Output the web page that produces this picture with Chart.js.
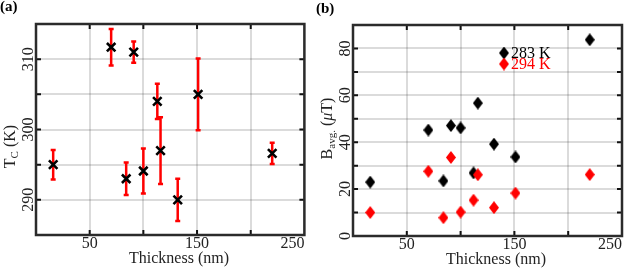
<!DOCTYPE html>
<html>
<head>
<meta charset="utf-8">
<script src="https://cdn.jsdelivr.net/npm/chart.js@4.4.1/dist/chart.umd.min.js"></script>
<style>
  body { margin: 0; background: #fff; }
  #wrap { position: relative; width: 627px; height: 268px; }
  .panel { position: absolute; top: 0; }
</style>
</head>
<body>
<div id="wrap">
  <canvas id="chartA" class="panel" width="313" height="268" style="left:0"></canvas>
  <canvas id="chartB" class="panel" width="314" height="268" style="left:313px"></canvas>
</div>
<script>
// panel (a): Curie temperature vs thickness
const thicknessTc = [16, 70, 84, 91, 100, 113, 116, 132, 151, 220];
const tcValues = [295.0, 311.7, 293.0, 311.0, 294.1, 304.0, 297.0, 290.0, 305.0, 296.6];
const tcErrors = [2.1, 2.6, 2.3, 1.5, 3.2, 2.5, 4.75, 3.0, 5.1, 1.5];

// panel (b): average field vs thickness
const thicknessB = [16, 70, 84, 91, 100, 112, 116, 131, 151, 220];
const bAvg283 = [23.0, 45.2, 23.5, 47.1, 46.1, 26.9, 56.7, 39.2, 33.7, 83.7];
const bAvg294 = [10.0, 27.6, 7.8, 33.5, 10.2, 15.3, 26.1, 12.1, 18.3, 26.2];
const seriesLabels = ["283 K", "294 K"];

// ticks
const xGrid = [0, 50, 100, 150, 200, 250];
const xLabels = [50, 150, 250];
const tcGrid = [285, 290, 295, 300, 305, 310, 315];
const tcLabels = [290, 300, 310];
const bGrid = [0, 10, 20, 30, 40, 50, 60, 70, 80, 90];
const bLabels = [0, 20, 40, 60, 80];

const SERIF = '"Liberation Serif", "DejaVu Serif", serif';
const RED = "#ff0000";
const DARK = "#222";

function diamond(color) {
  const c = document.createElement("canvas");
  c.width = 10; c.height = 13;
  const g = c.getContext("2d");
  g.fillStyle = color;
  g.beginPath();
  g.moveTo(5, 0); g.lineTo(10, 6.5); g.lineTo(5, 13); g.lineTo(0, 6.5);
  g.closePath();
  g.fill();
  return c;
}
const diamondBlack = diamond("#000");
const diamondRed = diamond(RED);

// draws pieces of text one after another, centred on (cx, cy), optionally rotated
function drawRich(ctx, parts, cx, cy, rot) {
  ctx.save();
  ctx.translate(cx, cy);
  ctx.rotate(rot || 0);
  ctx.textBaseline = "alphabetic";
  ctx.textAlign = "left";
  let total = 0;
  parts.forEach(p => { ctx.font = p.font; total += ctx.measureText(p.text).width; });
  let x = -total / 2;
  parts.forEach(p => {
    ctx.font = p.font;
    ctx.fillStyle = p.color || DARK;
    ctx.fillText(p.text, x, 5.5 + (p.dy || 0));
    x += ctx.measureText(p.text).width;
  });
  ctx.restore();
}

const decor = {
  id: "decor",
  beforeDatasetsDraw(chart, args, opts) {
    if (!opts.errors) return;
    const { ctx, scales: { x, y } } = chart;
    ctx.save();
    ctx.strokeStyle = RED;
    ctx.lineWidth = 2.5;
    ctx.beginPath();
    opts.errors.forEach((e, i) => {
      const px = x.getPixelForValue(thicknessTc[i]);
      const top = y.getPixelForValue(tcValues[i] + e);
      const bot = y.getPixelForValue(tcValues[i] - e);
      ctx.moveTo(px, top); ctx.lineTo(px, bot);
      ctx.moveTo(px - 2.5, top); ctx.lineTo(px + 2.5, top);
      ctx.moveTo(px - 2.5, bot); ctx.lineTo(px + 2.5, bot);
    });
    ctx.stroke();
    ctx.restore();
  },
  afterDraw(chart, args, opts) {
    const { ctx, chartArea: a, scales: { x, y } } = chart;
    ctx.save();
    // inward ticks
    ctx.strokeStyle = "#111";
    ctx.lineWidth = 2;
    ctx.beginPath();
    xGrid.forEach(v => {
      const px = x.getPixelForValue(v);
      if (px <= a.left + 1 || px >= a.right - 1) return;
      ctx.moveTo(px, a.bottom); ctx.lineTo(px, a.bottom - 5);
      ctx.moveTo(px, a.top); ctx.lineTo(px, a.top + 5);
    });
    opts.yGrid.forEach(v => {
      const py = y.getPixelForValue(v);
      if (py <= a.top + 1 || py >= a.bottom - 1) return;
      ctx.moveTo(a.left, py); ctx.lineTo(a.left + 5, py);
      ctx.moveTo(a.right, py); ctx.lineTo(a.right - 5, py);
    });
    ctx.stroke();
    // frame
    ctx.strokeStyle = "#2b2b2b";
    ctx.lineWidth = 2.5;
    ctx.strokeRect(a.left, a.top, a.right - a.left, a.bottom - a.top);

    // x tick labels
    ctx.fillStyle = DARK;
    ctx.font = "16px " + SERIF;
    ctx.textBaseline = "alphabetic";
    ctx.textAlign = "center";
    xLabels.forEach(v => {
      let px = x.getPixelForValue(v);
      const w = ctx.measureText(String(v)).width;
      if (px + w / 2 > a.right) px = a.right - w / 2;
      ctx.fillText(String(v), px, a.bottom + 13);
    });
    // y tick labels, rotated
    ctx.textBaseline = "middle";
    opts.yLabels.forEach(v => {
      const py = y.getPixelForValue(v);
      ctx.save();
      ctx.translate(a.left - 7, py);
      ctx.rotate(-Math.PI / 2);
      ctx.fillText(String(v), 0, 0);
      ctx.restore();
    });
    // axis titles
    drawRich(ctx, [{ text: "Thickness (nm)", font: "16px " + SERIF }], a.left + 143, a.bottom + 22);
    drawRich(ctx, opts.yTitle, a.left - 27, (a.top + a.bottom) / 2 + opts.yTitleShift, -Math.PI / 2);
    // panel tag
    ctx.font = "bold 15px " + SERIF;
    ctx.textAlign = "left";
    ctx.textBaseline = "alphabetic";
    ctx.fillStyle = "#000";
    ctx.fillText(opts.tag, opts.tagX, opts.tagY);

    // legend (panel b)
    if (opts.legend) {
      ctx.font = "16px " + SERIF;
      opts.legend.forEach((item, i) => {
        const lx = a.left + 151, ly = a.top + 28 + i * 11;
        ctx.drawImage(item.img, lx - 5, ly - 6.5);
        ctx.fillStyle = item.color;
        ctx.fillText(item.label, lx + 7, ly + 4.5);
      });
    }
    ctx.restore();
  }
};

function baseScales(yMin, yMax, yGridVals, yWidth, xHeight) {
  const grid = { color: "rgba(0,0,0,0.14)", lineWidth: 2, drawTicks: false };
  return {
    x: {
      type: "linear", min: 0, max: 250,
      ticks: { display: false },
      grid: grid,
      border: { display: false },
      afterBuildTicks: s => { s.ticks = xGrid.map(v => ({ value: v })); },
      afterFit: s => { s.height = xHeight; }
    },
    y: {
      type: "linear", min: yMin, max: yMax,
      ticks: { display: false },
      grid: grid,
      border: { display: false },
      afterBuildTicks: s => { s.ticks = yGridVals.map(v => ({ value: v })); },
      afterFit: s => { s.width = yWidth; }
    }
  };
}

new Chart(document.getElementById("chartA"), {
  type: "scatter",
  data: {
    datasets: [{
      data: thicknessTc.map((t, i) => ({ x: t, y: tcValues[i] })),
      pointStyle: "crossRot",
      pointRadius: 6,
      borderWidth: 2.6,
      borderColor: "#000",
      backgroundColor: "#000"
    }]
  },
  options: {
    responsive: false,
    animation: false,
    layout: { padding: { left: 0, top: 24, right: 8, bottom: 0 } },
    scales: baseScales(285, 315, tcGrid, 36, 33),
    plugins: {
      legend: { display: false },
      tooltip: { enabled: false },
      decor: {
        errors: tcErrors,
        yGrid: tcGrid,
        yLabels: tcLabels,
        yTitle: [
          { text: "T", font: "16px " + SERIF },
          { text: "C", font: "11px " + SERIF, dy: 3 },
          { text: " (K)", font: "16px " + SERIF }
        ],
        yTitleShift: 17,
        tag: "(a)", tagX: 0, tagY: 11
      }
    }
  },
  plugins: [decor]
});

new Chart(document.getElementById("chartB"), {
  type: "scatter",
  data: {
    datasets: [{
      label: seriesLabels[0],
      data: thicknessB.map((t, i) => ({ x: t, y: bAvg283[i] })),
      pointStyle: diamondBlack,
      order: 1
    }, {
      label: seriesLabels[1],
      data: thicknessB.map((t, i) => ({ x: t, y: bAvg294[i] })),
      pointStyle: diamondRed,
      order: 0
    }]
  },
  options: {
    responsive: false,
    animation: false,
    layout: { padding: { left: 0, top: 25, right: 5, bottom: 0 } },
    scales: baseScales(0, 90, bGrid, 40, 32),
    plugins: {
      legend: { display: false },
      tooltip: { enabled: false },
      decor: {
        yGrid: bGrid,
        yLabels: bLabels,
        yTitle: [
          { text: "B", font: "16px " + SERIF },
          { text: "avg.", font: "11px " + SERIF, dy: 3 },
          { text: " (", font: "16px " + SERIF },
          { text: "\u03bc", font: "italic 16px " + SERIF },
          { text: "T)", font: "16px " + SERIF }
        ],
        yTitleShift: -2,
        tag: "(b)", tagX: 3, tagY: 13,
        legend: [
          { label: seriesLabels[0], color: "#000", img: diamondBlack },
          { label: seriesLabels[1], color: RED, img: diamondRed }
        ]
      }
    }
  },
  plugins: [decor]
});
</script>
</body>
</html>
